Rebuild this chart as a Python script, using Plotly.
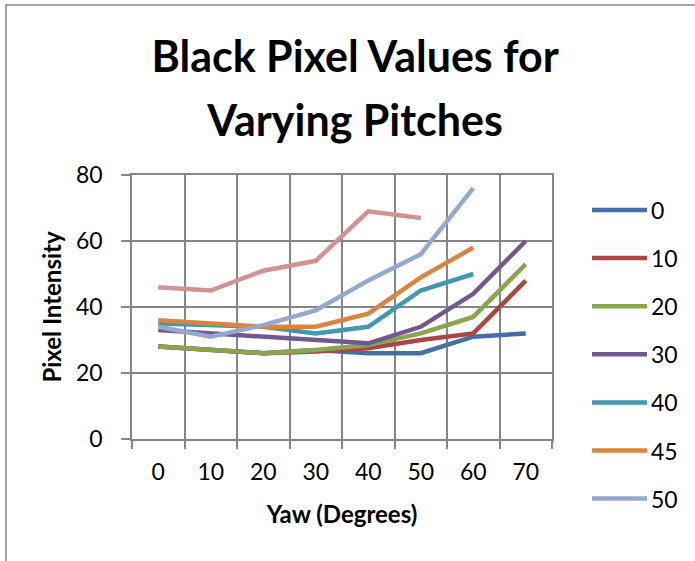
import plotly.graph_objects as go

# Yaw angles (categories) and black-pixel intensity per pitch
yaw = ["0", "10", "20", "30", "40", "50", "60", "70"]
pitch_0 = [28, 27, 26, 27, 26, 26, 31, 32]
pitch_10 = [28, 27, 26, 26.5, 27.5, 30, 32, 48]
pitch_20 = [28, 27, 26, 27, 28.5, 32, 37, 53]
pitch_30 = [33, 32, 31, 30, 29, 34, 44, 60]
pitch_40 = [35, 34.5, 34, 32, 34, 45, 50]
pitch_45 = [36, 35, 34, 34, 38, 49, 58]
pitch_50 = [34, 31, 34.5, 39, 48, 56, 76]
pitch_60 = [46, 45, 51, 54, 69, 67]

series = [
    ("0", pitch_0, "#4470A8"),
    ("10", pitch_10, "#AA4643"),
    ("20", pitch_20, "#89A54E"),
    ("30", pitch_30, "#71588F"),
    ("40", pitch_40, "#4198AF"),
    ("45", pitch_45, "#DB843D"),
    ("50", pitch_50, "#93A9CF"),
    ("60", pitch_60, "#D19392"),
]
legend_names = ["0", "10", "20", "30", "40", "45", "50"]

FONT = "Lato"
W, H = 695, 561
L, R, T, B = 132, 143, 175, 122
pw, ph = W - L - R, H - T - B


def px_x(x):
    return (x - L) / pw


def px_y(y):
    return (H - B - y) / ph


fig = go.Figure()
for name, vals, color in series:
    fig.add_trace(go.Scatter(
        x=yaw[:len(vals)], y=vals, name=name, mode="lines",
        line=dict(color=color, width=4.5), showlegend=False,
    ))

# legend drawn at the right, entries spaced evenly
shapes, annotations = [], []
colors = {n: c for n, _, c in series}
for i, name in enumerate(legend_names):
    yy = 210 + 48.1 * i
    shapes.append(dict(type="line", xref="paper", yref="paper",
                       x0=px_x(592), x1=px_x(647), y0=px_y(yy), y1=px_y(yy),
                       line=dict(color=colors[name], width=4.5)))
    annotations.append(dict(text=name, xref="paper", yref="paper",
                            x=px_x(649), y=px_y(yy), xanchor="left", yanchor="middle",
                            showarrow=False, font=dict(family=FONT, size=23, color="black")))

# chart frame
shapes.append(dict(type="rect", xref="paper", yref="paper",
                   x0=px_x(6), x1=px_x(710), y0=px_y(5), y1=px_y(580),
                   line=dict(color="#868686", width=1.5), layer="below"))

fig.update_layout(
    width=W, height=H,
    margin=dict(l=L, r=R, t=T, b=B),
    paper_bgcolor="white", plot_bgcolor="white",
    font=dict(family=FONT, size=23, color="black"),
    title=dict(
        text='<span style="font-size:43px">Black Pixel Values for</span><br>'
             '<span style="font-size:43px">Varying Pitches</span>',
        font=dict(family=FONT, size=49.5, color="black", weight="bold"),
        x=0.511, xanchor="center", y=1 - 71.5 / H, yanchor="middle",
    ),
    xaxis=dict(
        type="category", categoryorder="array", categoryarray=yaw,
        range=[-0.5, 7.5],
        tickson="boundaries", showgrid=True, gridcolor="#868686", gridwidth=1.5,
        ticks="outside", ticklen=8, tickcolor="#868686", tickwidth=1.5,
        showline=True, linecolor="#868686", linewidth=1.5, mirror=True,
        title=dict(text="<b>Yaw (Degrees)</b>", font=dict(family=FONT, size=24), standoff=22),
        tickfont=dict(family=FONT, size=23), ticklabelstandoff=12, zeroline=False,
    ),
    yaxis=dict(
        range=[0, 80], dtick=20, showgrid=True, gridcolor="#868686", gridwidth=1.5,
        ticks="outside", ticklen=9, tickcolor="#868686", tickwidth=1.5,
        showline=True, linecolor="#868686", linewidth=1.5, mirror=True,
        title=dict(text="<b>Pixel Intensity</b>", font=dict(family=FONT, size=24), standoff=8),
        tickfont=dict(family=FONT, size=23), ticklabelstandoff=14, zeroline=False,
    ),
    shapes=shapes, annotations=annotations,
)

fig.write_html("out.html")
